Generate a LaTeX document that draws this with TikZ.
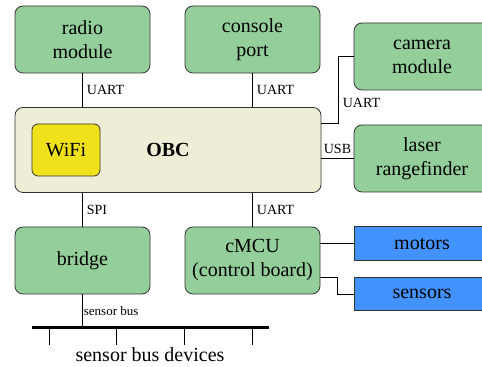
\documentclass[tikz,border=0pt]{standalone}
\usepackage{fontspec}
\setmainfont{Liberation Serif}
\usetikzlibrary{calc}
\definecolor{modgreen}{HTML}{94CF9B}
\definecolor{obcbeige}{HTML}{EEEDD6}
\definecolor{wifiyellow}{HTML}{F0E21A}
\definecolor{periblue}{HTML}{4393FF}

\begin{document}
\begin{tikzpicture}[x=0.5pt, y=-0.5pt,
  every node/.style={font=\fontsize{10}{12}\selectfont, align=center},
  module/.style={draw=black!80, fill=modgreen, rounded corners=4pt,
    minimum width=67.5pt, minimum height=33.5pt},
  periph/.style={draw=black!80, fill=periblue, minimum width=68pt,
    minimum height=16.75pt},
  bus label/.style={font=\fontsize{7}{8}\selectfont, inner sep=2pt}]
  \useasboundingbox (0,0) rectangle (482,367);
  % top row
  \node[module] (radio) at (82.5,39.5) {radio\\module};
  \node[module] (console) at (252.5,39.5) {console\\port};
  \node[module, minimum width=68pt] (camera) at (422,56.5) {camera\\module};
  % main board
  \node[draw=black!80, fill=obcbeige, rounded corners=4pt, minimum width=153pt,
    minimum height=42.5pt, font=\fontsize{10}{12}\selectfont\bfseries]
    (obc) at (168,150) {OBC};
  \node[draw=black!80, fill=wifiyellow, rounded corners=3pt, minimum width=34pt,
    minimum height=26pt] (wifi) at (66,150) {WiFi};
  \node[module, minimum width=68pt] (laser) at (422,158.5) {laser\\rangefinder};
  % bottom row
  \node[module] (bridge) at (82.5,260.5) {bridge};
  \node[module] (cmcu) at (252.5,260.5) {cMCU\\(control board)};
  \node[periph] (motors) at (422,243.5) {motors};
  \node[periph] (sensors) at (422,294) {sensors};
  % links
  \draw (radio.south) -- node[bus label, right] {UART} (radio.south |- obc.north);
  \draw (console.south) -- node[bus label, right] {UART} (console.south |- obc.north);
  \draw ([yshift=-8pt]obc.north east) -- ++(17,0)
    |- node[bus label, right, pos=0.15] {UART} (camera.west);
  \draw (obc.east |- laser.west) -- node[bus label, above] {USB} (laser.west);
  \draw (bridge.north |- obc.south) -- node[bus label, right] {SPI} (bridge.north);
  \draw (cmcu.north |- obc.south) -- node[bus label, right] {UART} (cmcu.north);
  \draw (cmcu.east |- motors.west) -- (motors.west);
  \draw ([yshift=-8.25pt]cmcu.east) -- ++(17,0) |- (sensors.west);
  % sensor bus
  \coordinate (busl) at (32,328);
  \coordinate (busr) at (269,328);
  \draw[line width=1.5pt] (busl) -- (busr);
  \draw (bridge.south) -- node[font=\fontsize{6.5}{8}\selectfont, right,
    inner sep=0.5pt] {sensor bus} (bridge.south |- busl);
  \foreach \x in {49,116,184,252}
    \draw (\x,328) -- (\x,345);
  \node (devices) at (150,355) {sensor bus devices};
\end{tikzpicture}
\end{document}
